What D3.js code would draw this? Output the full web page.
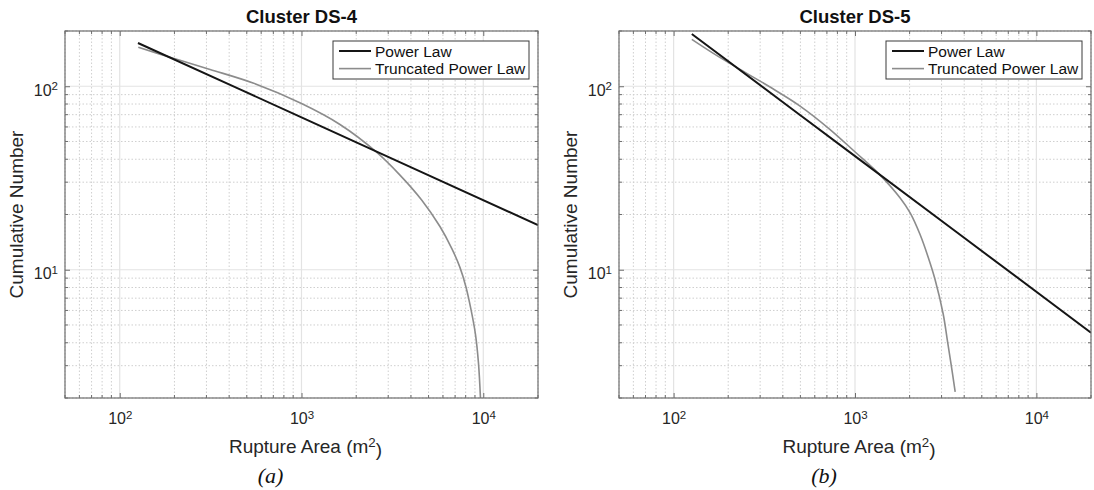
<!DOCTYPE html>
<html>
<head>
<meta charset="utf-8">
<script src="https://cdn.jsdelivr.net/npm/d3@7"></script>
<style>
  html, body { margin: 0; padding: 0; background: #fff; }
  svg { display: block; font-family: "Liberation Sans", Arial, Helvetica, sans-serif; }
</style>
</head>
<body>
<svg id="chart" width="1094" height="490"></svg>
<script>
// Cumulative number versus rupture area, two clusters, log-log axes.
const panelTitles = ["Cluster DS-4", "Cluster DS-5"];
const panelTags = ["(a)", "(b)"];
const seriesNames = ["Power Law", "Truncated Power Law"];

const xDomain = [50, 20000];
const yDomain = [2, 200];
const xTickExponents = [2, 3, 4];
const yTickExponents = [1, 2];

// Cluster DS-4
const ds4PowerArea = [126, 1000, 20000];
const ds4PowerCount = [172, 67.7, 17.5];
const ds4TruncArea = [126.5, 197, 314, 541, 1000, 1628, 2569, 3481, 4581, 5777, 6725, 7440, 8030, 8556, 9057, 9408, 9650];
const ds4TruncCount = [163, 142, 123.4, 104.1, 80.5, 61.9, 44.0, 32.8, 24.0, 17.2, 13.0, 10.3, 8.06, 6.08, 4.45, 3.11, 2.0];

// Cluster DS-5
const ds5PowerArea = [126, 1000, 20000];
const ds5PowerCount = [192.7, 41.6, 4.54];
const ds5TruncArea = [126, 165.6, 232.5, 340, 498, 729, 1002, 1359, 1774, 2014, 2287, 2532, 2767, 3063, 3222, 3390, 3567];
const ds5TruncCount = [180, 151, 123.4, 99.0, 78.0, 58.1, 43.8, 33.2, 24.6, 20.4, 15.5, 11.7, 8.8, 5.74, 4.19, 3.03, 2.16];

const panels = [
  { title: panelTitles[0], tag: panelTags[0], left: 65, right: 538,
    power: ds4PowerArea.map((a, i) => [a, ds4PowerCount[i]]),
    trunc: ds4TruncArea.map((a, i) => [a, ds4TruncCount[i]]) },
  { title: panelTitles[1], tag: panelTags[1], left: 619, right: 1091,
    power: ds5PowerArea.map((a, i) => [a, ds5PowerCount[i]]),
    trunc: ds5TruncArea.map((a, i) => [a, ds5TruncCount[i]]) }
];

const plotTop = 31, plotBottom = 398;
const textColor = "#262626";
const boxColor = "#6e6e6e";
const powerColor = "#151515";
const truncColor = "#8c8c8c";
const sans = "Liberation Sans, Arial, Helvetica, sans-serif";

const svg = d3.select("#chart");

function minorValues(domain) {
  const out = [];
  for (let e = -1; e <= 6; e++) {
    for (let m = 2; m <= 9; m++) {
      const v = m * Math.pow(10, e);
      if (v >= domain[0] - 1e-9 && v <= domain[1] + 1e-9) out.push(v);
    }
  }
  return out;
}

function powerLabel(sel) {
  sel.each(function(d) {
    const t = d3.select(this);
    const e = Math.round(Math.log10(d));
    t.text(null);
    t.append("tspan").text("10");
    t.append("tspan").attr("dy", "-0.45em").attr("font-size", "0.72em").text(e);
  });
}

panels.forEach((p, idx) => {
  const x = d3.scaleLog().domain(xDomain).range([p.left, p.right]);
  const y = d3.scaleLog().domain(yDomain).range([plotBottom, plotTop]);
  const g = svg.append("g").attr("class", "panel-" + idx);

  const xMinor = minorValues(xDomain);
  const yMinor = minorValues(yDomain);
  const xMajor = xTickExponents.map(e => Math.pow(10, e));
  const yMajor = yTickExponents.map(e => Math.pow(10, e));

  // minor grid (dotted)
  g.append("g").selectAll("line").data(xMinor).join("line")
    .attr("x1", d => x(d)).attr("x2", d => x(d)).attr("y1", plotTop).attr("y2", plotBottom)
    .attr("stroke", "#cfcfcf").attr("stroke-width", 1).attr("stroke-dasharray", "1.5,2");
  g.append("g").selectAll("line").data(yMinor).join("line")
    .attr("y1", d => y(d)).attr("y2", d => y(d)).attr("x1", p.left).attr("x2", p.right)
    .attr("stroke", "#cfcfcf").attr("stroke-width", 1).attr("stroke-dasharray", "1.5,2");

  // major grid
  g.append("g").selectAll("line").data(xMajor).join("line")
    .attr("x1", d => x(d)).attr("x2", d => x(d)).attr("y1", plotTop).attr("y2", plotBottom)
    .attr("stroke", "#e3e3e3").attr("stroke-width", 1.2);
  g.append("g").selectAll("line").data(yMajor).join("line")
    .attr("y1", d => y(d)).attr("y2", d => y(d)).attr("x1", p.left).attr("x2", p.right)
    .attr("stroke", "#e3e3e3").attr("stroke-width", 1.2);

  // curves
  const line = d3.line().x(d => x(d[0])).y(d => y(d[1])).curve(d3.curveCatmullRom.alpha(0.5));
  const clipId = "clip" + idx;
  svg.append("clipPath").attr("id", clipId).append("rect")
    .attr("x", p.left).attr("y", plotTop).attr("width", p.right - p.left).attr("height", plotBottom - plotTop);
  const curves = g.append("g").attr("clip-path", `url(#${clipId})`);
  curves.append("path").datum(p.trunc).attr("d", line)
    .attr("fill", "none").attr("stroke", truncColor).attr("stroke-width", 1.6);
  curves.append("path").datum(p.power).attr("d", line)
    .attr("fill", "none").attr("stroke", powerColor).attr("stroke-width", 2);

  // axes: bottom/left with labels, top/right ticks only (ticks pointing inward)
  const xAxisB = d3.axisBottom(x).tickValues(xMajor).tickSize(-5).tickPadding(15);
  const xAxisT = d3.axisTop(x).tickValues(xMajor).tickSize(-5).tickFormat("");
  const yAxisL = d3.axisLeft(y).tickValues(yMajor).tickSize(-5).tickPadding(7);
  const yAxisR = d3.axisRight(y).tickValues(yMajor).tickSize(-5).tickFormat("");

  const ax = g.append("g").attr("transform", `translate(0,${plotBottom})`).call(xAxisB);
  const axT = g.append("g").attr("transform", `translate(0,${plotTop})`).call(xAxisT);
  const ay = g.append("g").attr("transform", `translate(${p.left},0)`).call(yAxisL);
  const ayR = g.append("g").attr("transform", `translate(${p.right},0)`).call(yAxisR);

  [ax, axT, ay, ayR].forEach(a => {
    a.select(".domain").remove();
    a.selectAll(".tick line").attr("stroke", boxColor);
  });

  // minor ticks
  const minorTick = (vals, fn) => g.append("g").selectAll("line").data(vals).join("line").each(fn)
    .attr("stroke", boxColor).attr("stroke-width", 1);
  minorTick(xMinor, function(d) { d3.select(this).attr("x1", x(d)).attr("x2", x(d)).attr("y1", plotBottom).attr("y2", plotBottom - 3); });
  minorTick(xMinor, function(d) { d3.select(this).attr("x1", x(d)).attr("x2", x(d)).attr("y1", plotTop).attr("y2", plotTop + 3); });
  minorTick(yMinor, function(d) { d3.select(this).attr("y1", y(d)).attr("y2", y(d)).attr("x1", p.left).attr("x2", p.left + 3); });
  minorTick(yMinor, function(d) { d3.select(this).attr("y1", y(d)).attr("y2", y(d)).attr("x1", p.right).attr("x2", p.right - 3); });

  ax.selectAll(".tick text")
    .attr("font-size", 16).attr("fill", textColor).attr("font-family", sans)
    .call(powerLabel);
  ay.selectAll(".tick text")
    .attr("font-size", 16).attr("fill", textColor).attr("font-family", sans)
    .attr("dy", "0.55em")
    .call(powerLabel);

  // plot box
  g.append("rect").attr("x", p.left).attr("y", plotTop)
    .attr("width", p.right - p.left).attr("height", plotBottom - plotTop)
    .attr("fill", "none").attr("stroke", boxColor).attr("stroke-width", 1.2);

  const cx = (p.left + p.right) / 2;

  // title
  g.append("text").attr("x", cx).attr("y", 23).attr("text-anchor", "middle")
    .attr("font-size", 18.5).attr("font-weight", "bold").attr("fill", "#111").text(p.title);

  // x label
  const xl = g.append("text").attr("x", cx + 4).attr("y", 453).attr("text-anchor", "middle")
    .attr("font-size", 19).attr("fill", textColor);
  xl.append("tspan").text("Rupture Area (m");
  xl.append("tspan").attr("dy", "-0.45em").attr("font-size", "0.7em").text("2");
  xl.append("tspan").attr("dy", "0.45em").text(")");

  // y label
  g.append("text").attr("transform", `translate(${p.left - 42},${(plotTop + plotBottom) / 2}) rotate(-90)`)
    .attr("text-anchor", "middle").attr("font-size", 19).attr("fill", textColor)
    .text("Cumulative Number");

  // panel tag
  g.append("text").attr("x", cx - 31).attr("y", 483).attr("text-anchor", "middle")
    .style("font-family", "'Liberation Serif', 'Times New Roman', serif").style("font-style", "italic")
    .attr("font-size", 22).attr("fill", "#111").text(p.tag);

  // legend
  const lgW = 196, lgH = 38;
  const lgX = p.right - 9 - lgW, lgY = plotTop + 10;
  const lg = g.append("g").attr("transform", `translate(${lgX},${lgY})`);
  lg.append("rect").attr("width", lgW).attr("height", lgH)
    .attr("fill", "#fff").attr("stroke", "#3a3a3a").attr("stroke-width", 1);
  const rows = [
    { name: seriesNames[0], color: powerColor, w: 2 },
    { name: seriesNames[1], color: truncColor, w: 1.6 }
  ];
  rows.forEach((r, i) => {
    const ry = 10 + i * 17.6;
    lg.append("line").attr("x1", 6).attr("x2", 38).attr("y1", ry).attr("y2", ry)
      .attr("stroke", r.color).attr("stroke-width", r.w);
    lg.append("text").attr("x", 42).attr("y", ry + 5.5).attr("font-size", 15.5)
      .attr("fill", "#111").text(r.name);
  });
});
</script>
</body>
</html>
